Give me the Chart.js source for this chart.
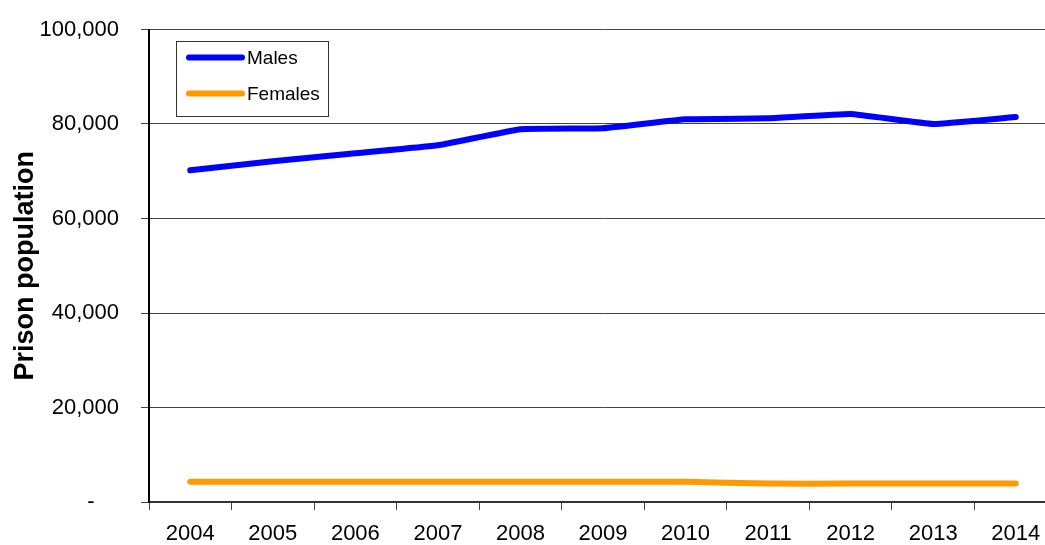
<!DOCTYPE html>
<html>
<head>
<meta charset="utf-8">
<script src="https://cdn.jsdelivr.net/npm/chart.js@4/dist/chart.umd.min.js"></script>
<style>
  html, body { margin: 0; padding: 0; background: #fff; overflow: hidden; }
  #wrap { width: 1057px; height: 545px; position: relative; }
</style>
</head>
<body>
<div id="wrap"><canvas id="c"></canvas></div>
<script>
const years = ['2004','2005','2006','2007','2008','2009','2010','2011','2012','2013','2014'];
const males = [70200, 72100, 73800, 75500, 78900, 79100, 81000, 81200, 82100, 80000, 81500];
const females = [4300, 4300, 4300, 4300, 4300, 4300, 4300, 3900, 3900, 3900, 3900];
const yTicks = [0, 20000, 40000, 60000, 80000, 100000];
const yTitle = 'Prison population';

const FONT = 'Liberation Sans, Arial, Helvetica, sans-serif';

const boxLegend = {
  id: 'boxLegend',
  afterDraw(chart) {
    const ctx = chart.ctx;
    const a = chart.chartArea;
    const x0 = a.left + 27, y0 = a.top + 11, w = 152, h = 75;
    ctx.save();
    ctx.fillStyle = '#fff';
    ctx.fillRect(x0, y0, w, h);
    ctx.strokeStyle = '#333';
    ctx.lineWidth = 1;
    ctx.strokeRect(Math.round(x0) + 0.5, Math.round(y0) + 0.5, w, h);
    chart.data.datasets.forEach((ds, i) => {
      const cy = y0 + 17 + i * 36;
      ctx.strokeStyle = ds.borderColor;
      ctx.lineWidth = 6;
      ctx.lineCap = 'round';
      ctx.beginPath();
      ctx.moveTo(x0 + 13, cy);
      ctx.lineTo(x0 + 66, cy);
      ctx.stroke();
      ctx.fillStyle = '#000';
      ctx.font = '19px ' + FONT;
      ctx.textBaseline = 'middle';
      ctx.textAlign = 'left';
      ctx.fillText(ds.label, x0 + 71, cy + 1);
    });
    ctx.restore();
  }
};

new Chart(document.getElementById('c'), {
  type: 'line',
  data: {
    labels: years,
    datasets: [
      { label: 'Males', data: males, borderColor: '#0000FF', backgroundColor: '#0000FF',
        borderWidth: 6, pointRadius: 0, tension: 0.08, borderCapStyle: 'round', borderJoinStyle: 'round' },
      { label: 'Females', data: females, borderColor: '#FF9900', backgroundColor: '#FF9900',
        borderWidth: 6, pointRadius: 0, tension: 0.15, borderCapStyle: 'round', borderJoinStyle: 'round' }
    ]
  },
  options: {
    responsive: true,
    maintainAspectRatio: false,
    animation: false,
    layout: { padding: { top: 29.5, left: 0, right: 0, bottom: 0 } },
    plugins: { legend: { display: false }, tooltip: { enabled: false } },
    scales: {
      x: {
        type: 'category',
        offset: true,
        grid: { display: true, offset: true, drawOnChartArea: false, drawTicks: true, tickLength: 8, color: '#444', lineWidth: 1 },
        border: { display: true, color: '#333', width: 2 },
        ticks: { color: '#000', font: { family: FONT, size: 22 }, padding: 11, maxRotation: 0, autoSkip: false },
        afterFit(scale) { scale.height = 43; scale.paddingLeft = 0; scale.paddingRight = 0; }
      },
      y: {
        min: 0, max: 100000,
        afterBuildTicks(scale) { scale.ticks = yTicks.map(v => ({ value: v })); },
        grid: { color: '#444', lineWidth: 1, tickLength: 8, drawTicks: true },
        border: { display: true, color: '#000', width: 2 },
        ticks: {
          color: '#000', font: { family: FONT, size: 22 }, padding: 22,
          callback: (v) => v === 0 ? '-    ' : v.toLocaleString('en-US')
        },
        title: { display: true, text: yTitle, color: '#000', font: { family: FONT, size: 27, weight: 'bold' }, padding: { top: 9, bottom: 0 } },
        afterFit(scale) { scale.width = 149; scale.paddingTop = 0; scale.paddingBottom = 0; }
      }
    }
  },
  plugins: [boxLegend]
});
</script>
</body>
</html>
